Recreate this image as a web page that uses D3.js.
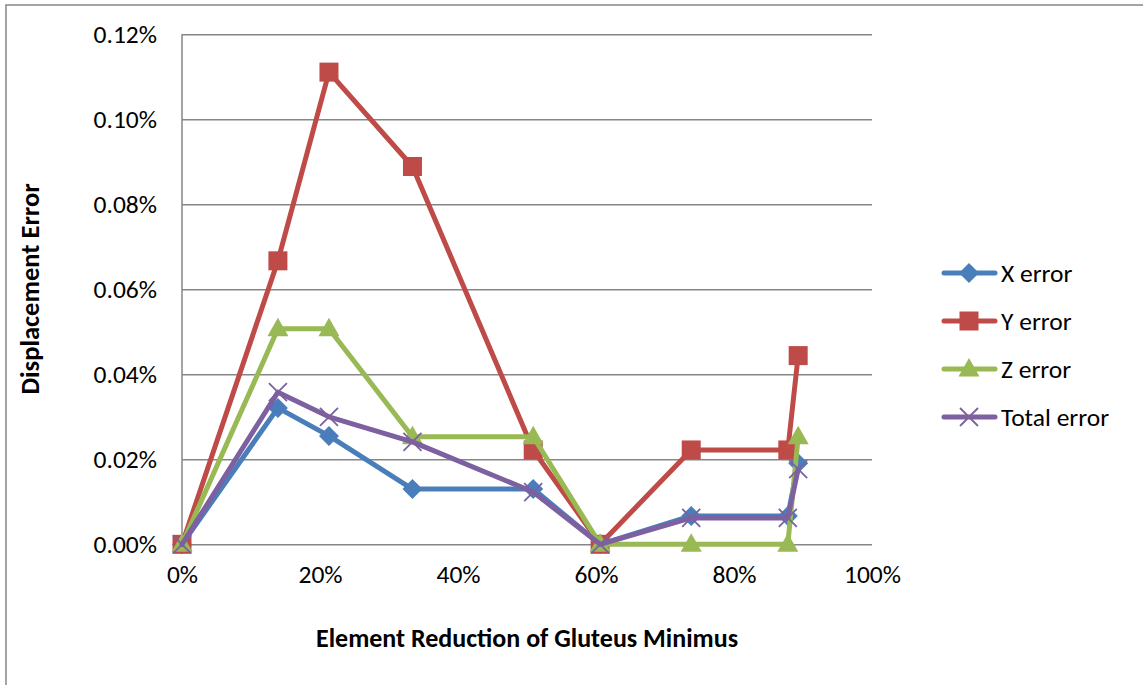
<!DOCTYPE html>
<html><head><meta charset="utf-8">
<script src="https://cdn.jsdelivr.net/npm/d3@7"></script>
<style>body{margin:0;background:#fff}svg{display:block}text{font-family:Carlito,Calibri,Lato,sans-serif;fill:#000}</style>
</head><body>
<script>
const xValues = [0, 0.139, 0.213, 0.334, 0.509, 0.606, 0.738, 0.878, 0.893];
const xError = [0, 0.000321, 0.000255, 0.000130, 0.000130, 0, 0.0000666, 0.0000666, 0.000191];
const yError = [0, 0.000667, 0.001111, 0.000889, 0.000222, 0, 0.000222, 0.000222, 0.000444];
const zError = [0, 0.000507, 0.000507, 0.000253, 0.000253, 0, 0, 0, 0.000253];
const totalError = [0, 0.000358, 0.000300, 0.000241, 0.000123, 0, 0.0000620, 0.0000620, 0.000177];
const seriesNames = ["X error", "Y error", "Z error", "Total error"];
const yTicks = [0, 0.0002, 0.0004, 0.0006, 0.0008, 0.0010, 0.0012];
const xTicks = [0, 0.2, 0.4, 0.6, 0.8, 1.0];
const xTitle = "Element Reduction of Gluteus Minimus";
const yTitle = "Displacement Error";

const W = 1143, H = 685;
const svg = d3.select("body").append("svg").attr("width", W).attr("height", H);
svg.append("rect").attr("x", 6).attr("y", 5).attr("width", W + 10).attr("height", H + 10)
  .attr("fill", "#fff").attr("stroke", "#868686").attr("stroke-width", 1.5);

const x = d3.scaleLinear().domain([0, 1]).range([182, 872]);
const y = d3.scaleLinear().domain([0, 0.0012]).range([544.3, 34.3]);
const FS = 25.5;
const FF = "Carlito,Calibri,Lato,sans-serif";

// y axis with gridlines
const ya = svg.append("g").attr("transform", `translate(${x(0)},0)`)
  .call(d3.axisLeft(y).tickValues(yTicks).tickFormat(d3.format(".2%")).tickSize(-(x(1) - x(0))).tickPadding(25));
ya.select(".domain").remove();
ya.selectAll(".tick line").attr("stroke", "#868686").attr("stroke-width", 1.5);
ya.selectAll(".tick text").attr("font-size", FS).attr("font-family", FF).attr("fill", "#000");
svg.append("line").attr("x1", x(0)).attr("x2", x(0)).attr("y1", y(0.0012)).attr("y2", y(0))
  .attr("stroke", "#868686").attr("stroke-width", 1.5);

// x axis
const xa = svg.append("g").attr("transform", `translate(0,${y(0)})`)
  .call(d3.axisBottom(x).tickValues(xTicks).tickFormat(d3.format(".0%")).tickSize(0).tickPadding(30));
xa.select(".domain").remove();
xa.selectAll(".tick text").attr("font-size", FS).attr("font-family", FF).attr("fill", "#000").attr("dy", "0.35em");

svg.append("text").attr("x", 527).attr("y", 638).attr("dy", "0.35em").attr("text-anchor", "middle")
  .attr("font-size", FS + 0.5).attr("font-weight", "bold").text(xTitle);
svg.append("text").attr("transform", "translate(30,289) rotate(-90)").attr("dy", "0.35em").attr("text-anchor", "middle")
  .attr("font-size", FS + 1).attr("font-weight", "bold").text(yTitle);

const colors = ["#4A7EBB", "#BE4B48", "#98B954", "#7D60A0"];
const shapes = ["diamond", "square", "triangle", "x"];
const data = [xError, yError, zError, totalError];

function marker(g, shape, color, cx, cy) {
  if (shape === "diamond") {
    g.append("path").attr("d", `M${cx},${cy-10}L${cx+10},${cy}L${cx},${cy+10}L${cx-10},${cy}Z`).attr("fill", color);
  } else if (shape === "square") {
    g.append("rect").attr("x", cx - 9.5).attr("y", cy - 9.5).attr("width", 19).attr("height", 19).attr("fill", color);
  } else if (shape === "triangle") {
    g.append("path").attr("d", `M${cx},${cy-11}L${cx+10.5},${cy+7.5}L${cx-10.5},${cy+7.5}Z`).attr("fill", color);
  } else {
    g.append("path").attr("d", `M${cx-9},${cy-9}L${cx+9},${cy+9}M${cx+9},${cy-9}L${cx-9},${cy+9}`)
      .attr("stroke", color).attr("stroke-width", 1.8).attr("fill", "none");
  }
}

const line = d3.line().x(d => x(d[0])).y(d => y(d[1]));
data.forEach((vals, i) => {
  const g = svg.append("g");
  const pts = xValues.map((xv, j) => [xv, vals[j]]);
  g.append("path").attr("d", line(pts)).attr("fill", "none").attr("stroke", colors[i])
    .attr("stroke-width", 5).attr("stroke-linejoin", "round").attr("stroke-linecap", "round");
  pts.forEach(p => marker(g, shapes[i], colors[i], x(p[0]), y(p[1])));
});

// legend
const legY = [273, 321, 369, 417];
seriesNames.forEach((n, i) => {
  const g = svg.append("g");
  g.append("line").attr("x1", 944).attr("x2", 995).attr("y1", legY[i]).attr("y2", legY[i])
    .attr("stroke", colors[i]).attr("stroke-width", 5).attr("stroke-linecap", "round");
  marker(g, shapes[i], colors[i], 969, legY[i]);
  g.append("text").attr("x", 1001).attr("y", legY[i]).attr("dy", "0.35em").attr("font-size", FS).text(n);
});
</script>
</body></html>
